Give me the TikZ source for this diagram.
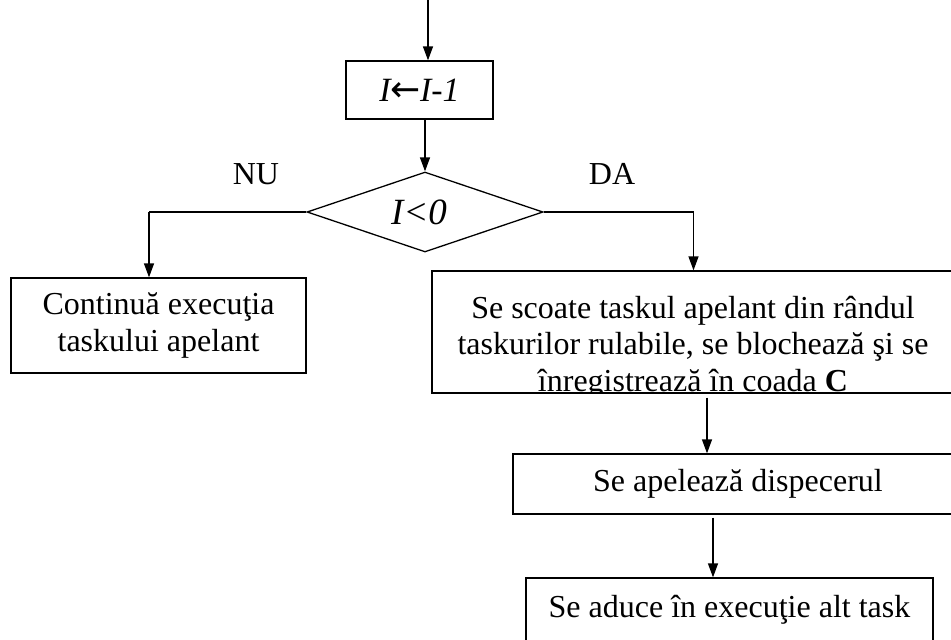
\documentclass[tikz,border=0pt]{standalone}
\usepackage{fontspec}
\setmainfont{Liberation Serif}
\newfontfamily\arrowfont{DejaVu Sans}
\usetikzlibrary{arrows.meta,shapes.geometric}
\begin{document}
\begin{tikzpicture}[x=1pt,y=-1pt,
  every node/.style={font=\fontsize{32}{36.5}\selectfont},
  box/.style={draw,line width=1.3pt,inner sep=0pt,align=center},
  arr/.style={line width=1.3pt,-{Triangle[length=14pt,width=10pt]}},
  lin/.style={line width=1.3pt}]
\useasboundingbox (0,0) rectangle (951,640);
% nodes
\node[box,minimum width=147pt,minimum height=58pt] (n1) at (419.5,90)
  {\fontsize{34}{38}\selectfont\textit{I}\kern-1pt{\arrowfont\fontsize{36}{38}\selectfont ←}\kern-1pt\textit{I-1}};
\node[draw,line width=1.3pt,shape=diamond,aspect=2.95,inner sep=0pt,
  minimum width=236pt,minimum height=80pt] (d) at (425,212) {};
\node (dt) at (419,212) {\fontsize{37}{40}\selectfont\textit{I<0}};
\node (nu) at (256,174) {NU};
\node (da) at (612,174) {DA};
\node[box,minimum width=295pt,minimum height=95pt] (lb) at (158.5,325.5)
  {Continuă execuţia\\taskului apelant};
\begin{scope}
  \clip (432,271) rectangle (951,393);
  \node[align=center,inner sep=0pt] (rt) at (693,347)
    {Se scoate taskul apelant din rândul\\taskurilor rulabile, se blochează şi se\\înregistrează în coada \textbf{C}};
\end{scope}
\node[draw,line width=1.3pt,inner sep=0pt,minimum width=523pt,minimum height=122pt] (rb) at (693.5,332) {};
\node[box,minimum width=450pt,minimum height=60pt] (ap) at (738,484)
  {Se apelează dispecerul};
\node[box,minimum width=407pt,minimum height=64pt] (ad) at (729.5,610)
  {Se aduce în execuţie alt task};
% connectors
\coordinate (top) at (428,0);
\draw[arr] (top) -- (top |- n1.north);
\draw[arr] (n1.south -| d.north) -- (d.north);
\coordinate (lk) at (149,212);
\draw[lin] (d.west) -- (lk);
\draw[arr] (lk) -- (lk |- lb.north);
\draw[arr] (d.east) -| (rb.north);
\coordinate (k1) at (707,0);
\draw[arr] (k1 |- rb.south) ++(0,4) -- (k1 |- ap.north);
\coordinate (k2) at (713,0);
\draw[arr] (k2 |- ap.south) ++(0,3) -- (k2 |- ad.north);
\end{tikzpicture}
\end{document}
